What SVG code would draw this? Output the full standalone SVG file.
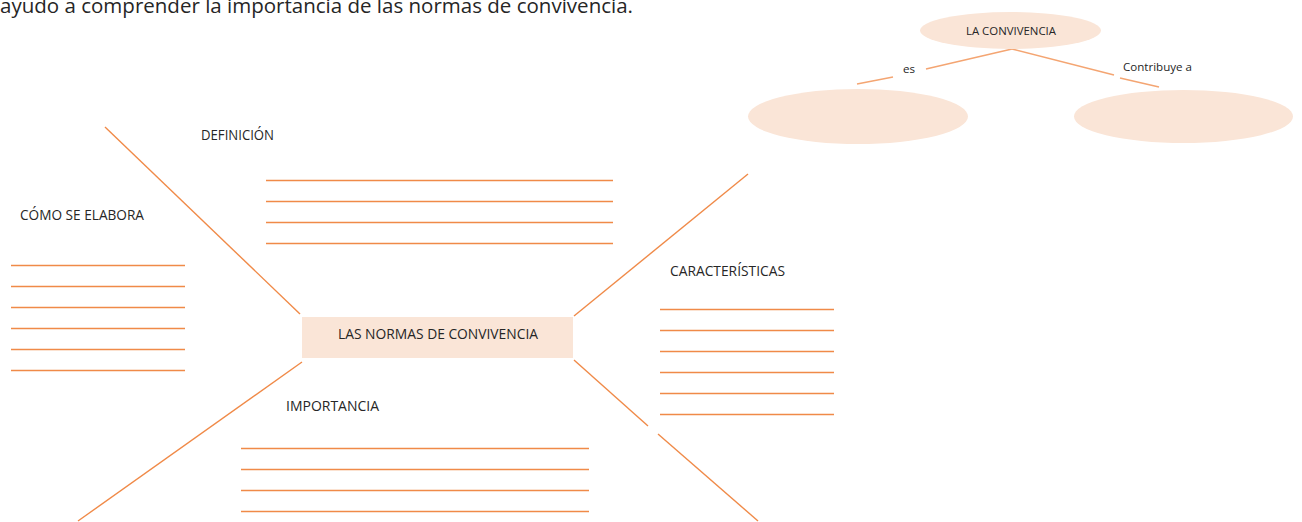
<svg xmlns="http://www.w3.org/2000/svg" width="1302" height="522" viewBox="0 0 1302 522">
<style>
  .t { font-family: "Open Sans", "Liberation Sans", sans-serif; fill: #262626; }
  .lbl { font-size: 14px; }
  .sm { font-size: 11px; }
  .ln { stroke: #F08A48; stroke-width: 1.4; fill: none; }
  .ln2 { stroke: #F4A572; stroke-width: 1.4; fill: none; }
  .fill { fill: #FAE5D7; stroke: none; }
</style>
<rect x="0" y="0" width="1302" height="522" fill="#ffffff"/>

<text class="t" x="0" y="13" font-size="20" textLength="633" lengthAdjust="spacingAndGlyphs">ayudo a comprender la importancia de las normas de convivencia.</text>

<g id="connectors">
  <line class="ln" x1="105" y1="127" x2="300" y2="314"/>
  <line class="ln" x1="302" y1="362" x2="78" y2="521"/>
  <line class="ln" x1="574" y1="316" x2="748" y2="174"/>
  <line class="ln" x1="574" y1="360" x2="648" y2="426"/>
  <line class="ln" x1="658" y1="434" x2="758" y2="521"/>
  <line class="ln2" x1="1012" y1="49" x2="926" y2="69"/>
  <line class="ln2" x1="893" y1="77" x2="857" y2="84"/>
  <line class="ln2" x1="1012" y1="49" x2="1114" y2="75"/>
  <line class="ln2" x1="1120" y1="78" x2="1159" y2="87"/>
</g>

<g id="definicion">
  <text class="t lbl" x="201" y="139.5" textLength="73" lengthAdjust="spacingAndGlyphs">DEFINICIÓN</text>
  <line class="ln" x1="266" y1="180.5" x2="613" y2="180.5"/>
  <line class="ln" x1="266" y1="201.5" x2="613" y2="201.5"/>
  <line class="ln" x1="266" y1="222.5" x2="613" y2="222.5"/>
  <line class="ln" x1="266" y1="243.5" x2="613" y2="243.5"/>
</g>

<g id="como-se-elabora">
  <text class="t lbl" x="20" y="220" textLength="124" lengthAdjust="spacingAndGlyphs">CÓMO SE ELABORA</text>
  <line class="ln" x1="11" y1="265.5" x2="185" y2="265.5"/>
  <line class="ln" x1="11" y1="286.5" x2="185" y2="286.5"/>
  <line class="ln" x1="11" y1="307.5" x2="185" y2="307.5"/>
  <line class="ln" x1="11" y1="328.5" x2="185" y2="328.5"/>
  <line class="ln" x1="11" y1="349.5" x2="185" y2="349.5"/>
  <line class="ln" x1="11" y1="370.5" x2="185" y2="370.5"/>
</g>

<g id="caracteristicas">
  <text class="t lbl" x="670" y="275.5" textLength="115" lengthAdjust="spacingAndGlyphs">CARACTERÍSTICAS</text>
  <line class="ln" x1="660" y1="309.5" x2="834" y2="309.5"/>
  <line class="ln" x1="660" y1="330.5" x2="834" y2="330.5"/>
  <line class="ln" x1="660" y1="351.5" x2="834" y2="351.5"/>
  <line class="ln" x1="660" y1="372.5" x2="834" y2="372.5"/>
  <line class="ln" x1="660" y1="393.5" x2="834" y2="393.5"/>
  <line class="ln" x1="660" y1="414.5" x2="834" y2="414.5"/>
</g>

<g id="importancia">
  <text class="t lbl" x="286" y="411" textLength="93" lengthAdjust="spacingAndGlyphs">IMPORTANCIA</text>
  <line class="ln" x1="241" y1="448.5" x2="589" y2="448.5"/>
  <line class="ln" x1="241" y1="469.5" x2="589" y2="469.5"/>
  <line class="ln" x1="241" y1="490.5" x2="589" y2="490.5"/>
  <line class="ln" x1="241" y1="511.5" x2="589" y2="511.5"/>
</g>

<g id="normas">
  <rect class="fill" x="302" y="317" width="271" height="41"/>
  <text class="t lbl" x="338" y="338.5" textLength="200" lengthAdjust="spacingAndGlyphs">LAS NORMAS DE CONVIVENCIA</text>
</g>

<g id="la-convivencia">
  <ellipse class="fill" cx="1010.5" cy="30.5" rx="90.5" ry="18.5"/>
  <text class="t sm" x="966" y="35" textLength="90" lengthAdjust="spacingAndGlyphs">LA CONVIVENCIA</text>
</g>

<g id="label-es">
  <text class="t sm" x="903" y="73" textLength="12" lengthAdjust="spacingAndGlyphs">es</text>
</g>

<g id="label-contribuye">
  <text class="t sm" x="1123" y="71" textLength="69" lengthAdjust="spacingAndGlyphs">Contribuye a</text>
</g>

<g id="es-node">
  <ellipse class="fill" cx="858" cy="116.5" rx="110" ry="27.5"/>
</g>

<g id="contribuye-node">
  <ellipse class="fill" cx="1183.5" cy="116.5" rx="109.5" ry="26.5"/>
</g>
</svg>
